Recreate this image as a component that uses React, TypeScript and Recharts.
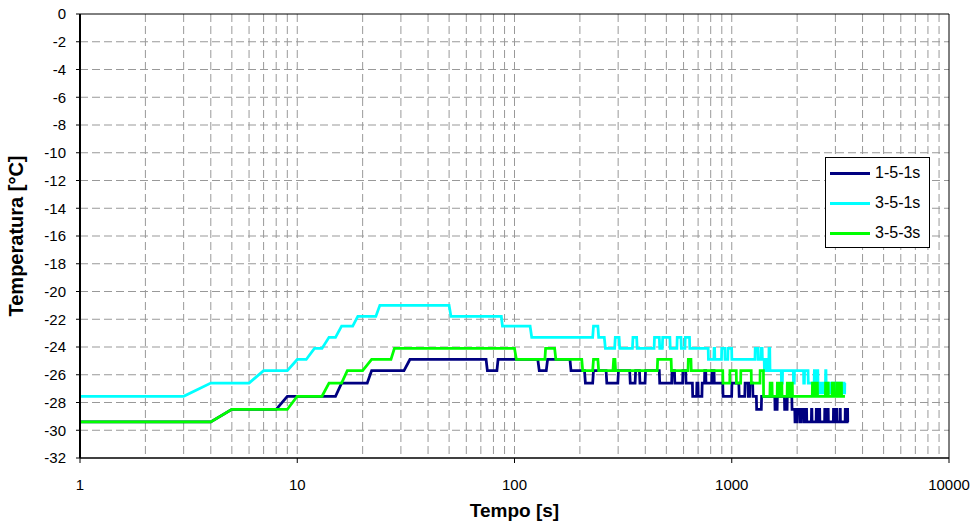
import { CartesianGrid, Legend, Line, LineChart, ReferenceLine, XAxis, YAxis } from 'recharts';

const font = '"Liberation Sans", Arial, sans-serif';

// axis values
const timeTicks = [1, 10, 100, 1000, 10000];
const gridTimes = [
  2, 3, 4, 5, 6, 7, 8, 9, 10, 20, 30, 40, 50, 60, 70, 80, 90, 100,
  200, 300, 400, 500, 600, 700, 800, 900, 1000, 2000, 3000, 4000, 5000, 6000, 7000, 8000, 9000,
];
const tempTicks = [0, -2, -4, -6, -8, -10, -12, -14, -16, -18, -20, -22, -24, -26, -28, -30, -32];
const gridTemps = [-2, -4, -6, -8, -10, -12, -14, -16, -18, -20, -22, -24, -26, -28, -30];

// [time s, temperature °C]
const run151: [number, number][] = [
  [1, -29.4], [4, -29.4], [5, -28.5], [8, -28.5], [9, -27.55], [15, -27.55], [16, -26.6], [21, -26.6],
  [22, -25.7], [31, -25.7], [33, -24.9], [74, -24.9], [75, -25.7], [83, -25.7], [84, -24.9], [128, -24.9],
  [130, -25.7], [140, -25.7], [142, -24.9], [180, -24.9], [182, -25.7], [210, -25.7], [212, -26.6], [229, -26.6],
  [231, -25.7], [264, -25.7], [266, -26.6], [299, -26.6], [301, -25.7], [339, -25.7], [341, -26.6], [359, -26.6],
  [361, -25.7], [376, -25.7], [378, -26.6], [399, -26.6], [401, -25.7], [464, -25.7], [466, -26.6], [529, -26.6],
  [531, -25.7], [545, -25.7], [547, -26.6], [594, -26.6], [596, -25.7], [614, -25.7], [616, -26.6], [659, -26.6],
  [661, -27.55], [689, -27.55], [691, -26.6], [699, -26.6], [701, -27.55], [729, -27.55], [731, -26.6], [749, -26.6],
  [751, -25.7], [759, -25.7], [761, -26.6], [809, -26.6], [811, -25.7], [829, -25.7], [831, -26.6], [909, -26.6],
  [912, -27.55], [999, -27.55], [1002, -26.6], [1078, -26.6], [1082, -27.55], [1148, -27.55], [1152, -26.6], [1188, -26.6],
  [1192, -27.55], [1208, -27.55], [1212, -26.6], [1248, -26.6], [1252, -27.55], [1298, -27.55], [1302, -28.5], [1368, -28.5],
  [1372, -27.55], [1578, -27.55], [1582, -28.5], [1618, -28.5], [1622, -27.55], [1748, -27.55], [1752, -28.5], [1798, -28.5],
  [1802, -27.55], [1890, -27.55], [1895, -28.5], [1950, -28.5], [1955, -29.4], [1990, -29.4], [1995, -28.5], [2050, -28.5],
  [2055, -29.4], [2090, -29.4], [2095, -28.5], [2150, -28.5], [2155, -29.4], [2195, -29.4], [2200, -28.5], [2210, -28.5],
  [2215, -29.4], [2325, -29.4], [2330, -28.5], [2338, -28.5], [2343, -29.4], [2445, -29.4], [2450, -28.5], [2460, -28.5],
  [2465, -29.4], [2525, -29.4], [2530, -28.5], [2540, -28.5], [2545, -29.4], [2675, -29.4], [2680, -28.5], [2690, -28.5],
  [2695, -29.4], [2765, -29.4], [2770, -28.5], [2780, -28.5], [2785, -29.4], [2935, -29.4], [2940, -28.5], [2950, -28.5],
  [2955, -29.4], [3025, -29.4], [3030, -28.5], [3040, -28.5], [3045, -29.4], [3145, -29.4], [3150, -28.5], [3160, -28.5],
  [3165, -29.4], [3325, -29.4], [3330, -28.5], [3345, -28.5], [3350, -29.4], [3395, -29.4], [3400, -28.5], [3415, -28.5],
  [3420, -29.4], [3450, -29.4],
];

const run351: [number, number][] = [
  [1, -27.55], [3, -27.55], [4, -26.6], [6, -26.6], [7, -25.7], [9, -25.7], [10, -24.9], [11, -24.9],
  [12, -24.1], [13, -24.1], [14, -23.3], [15, -23.3], [16, -22.5], [18, -22.5], [19, -21.8], [23, -21.8],
  [24, -21.0], [50, -21.0], [51, -21.8], [87, -21.8], [88, -22.5], [118, -22.5], [120, -23.3], [229, -23.3],
  [231, -22.5], [242, -22.5], [244, -23.3], [259, -23.3], [262, -24.1], [289, -24.1], [291, -23.3], [303, -23.3],
  [305, -24.1], [349, -24.1], [351, -23.3], [365, -23.3], [367, -24.1], [439, -24.1], [441, -23.3], [464, -23.3],
  [466, -24.1], [479, -24.1], [481, -23.3], [519, -23.3], [521, -24.1], [559, -24.1], [561, -23.3], [584, -23.3],
  [586, -24.1], [609, -24.1], [611, -23.3], [639, -23.3], [641, -24.1], [779, -24.1], [781, -24.9], [827, -24.9],
  [829, -24.1], [834, -24.1], [836, -24.9], [897, -24.9], [899, -24.1], [929, -24.1], [931, -24.9], [959, -24.9],
  [961, -24.1], [999, -24.1], [1001, -24.9], [1279, -24.9], [1282, -24.1], [1318, -24.1], [1322, -24.9], [1360, -24.9],
  [1364, -24.1], [1380, -24.1], [1384, -24.9], [1410, -24.9], [1414, -25.7], [1430, -25.7], [1434, -24.9], [1460, -24.9],
  [1464, -25.7], [1480, -25.7], [1484, -24.1], [1496, -24.1], [1500, -25.7], [1690, -25.7], [1694, -26.6], [1710, -26.6],
  [1714, -25.7], [1920, -25.7], [1924, -26.6], [1940, -26.6], [1944, -25.7], [2140, -25.7], [2144, -26.6], [2160, -26.6],
  [2164, -25.7], [2245, -25.7], [2250, -26.6], [2395, -26.6], [2400, -25.7], [2420, -25.7], [2425, -26.6], [2470, -26.6],
  [2475, -25.7], [2490, -25.7], [2495, -26.6], [2520, -26.6], [2525, -27.3], [2535, -27.3], [2540, -26.6], [2580, -26.6],
  [2585, -27.3], [2595, -27.3], [2600, -26.6], [2640, -26.6], [2645, -27.3], [2660, -27.3], [2665, -26.6], [2700, -26.6],
  [2705, -25.7], [2715, -25.7], [2720, -26.6], [2750, -26.6], [2755, -27.3], [2770, -27.3], [2775, -26.6], [2810, -26.6],
  [2815, -27.3], [2830, -27.3], [2835, -26.6], [2870, -26.6], [2875, -27.3], [2890, -27.3], [2895, -26.6], [2930, -26.6],
  [2935, -27.3], [2950, -27.3], [2955, -26.6], [2990, -26.6], [2995, -27.3], [3010, -27.3], [3015, -26.6], [3050, -26.6],
  [3055, -27.3], [3070, -27.3], [3075, -26.6], [3110, -26.6], [3115, -27.3], [3130, -27.3], [3135, -26.6], [3170, -26.6],
  [3175, -27.3], [3190, -27.3], [3195, -26.6], [3230, -26.6], [3235, -27.3], [3250, -27.3], [3255, -26.6], [3290, -26.6],
  [3295, -27.3], [3310, -27.3], [3315, -26.6], [3320, -26.6],
];

const run353: [number, number][] = [
  [1, -29.4], [4, -29.4], [5, -28.5], [9, -28.5], [10, -27.55], [13, -27.55], [14, -26.6], [16, -26.6],
  [17, -25.7], [20, -25.7], [22, -24.9], [27, -24.9], [28, -24.1], [100, -24.1], [102, -24.9], [138, -24.9],
  [139, -24.1], [153, -24.1], [155, -24.9], [204, -24.9], [206, -25.7], [229, -25.7], [231, -24.9], [242, -24.9],
  [244, -25.7], [284, -25.7], [286, -24.9], [290, -24.9], [292, -25.7], [454, -25.7], [456, -24.9], [526, -24.9],
  [528, -25.7], [629, -25.7], [631, -24.9], [649, -24.9], [651, -25.7], [909, -25.7], [911, -26.6], [979, -26.6],
  [981, -25.7], [1049, -25.7], [1051, -26.6], [1099, -26.6], [1101, -25.7], [1229, -25.7], [1231, -26.6], [1349, -26.6],
  [1351, -25.7], [1399, -25.7], [1401, -27.55], [1498, -27.55], [1502, -26.6], [1510, -26.6], [1514, -27.55], [1520, -27.55],
  [1524, -26.6], [1532, -26.6], [1536, -27.55], [1618, -27.55], [1622, -26.6], [1635, -26.6], [1639, -27.55], [1650, -27.55],
  [1654, -26.6], [1670, -26.6], [1674, -27.55], [1685, -27.55], [1689, -26.6], [1700, -26.6], [1704, -27.55], [1798, -27.55],
  [1802, -26.6], [1820, -26.6], [1824, -27.55], [1840, -27.55], [1844, -26.6], [1865, -26.6], [1869, -27.55], [1880, -27.55],
  [1884, -26.6], [1900, -26.6], [1904, -27.55], [2348, -27.55], [2352, -26.6], [2375, -26.6], [2380, -27.55], [2400, -27.55],
  [2405, -26.6], [2430, -26.6], [2435, -27.55], [2450, -27.55], [2455, -26.6], [2478, -26.6], [2483, -27.55], [2698, -27.55],
  [2703, -26.6], [2730, -26.6], [2735, -27.55], [2750, -27.55], [2755, -26.6], [2778, -26.6], [2783, -27.55], [2898, -27.55],
  [2903, -26.6], [2925, -26.6], [2930, -27.55], [2948, -27.55], [2953, -26.6], [2958, -26.6], [2963, -27.55], [3048, -27.55],
  [3053, -26.6], [3085, -26.6], [3090, -27.55], [3110, -27.55], [3115, -26.6], [3150, -26.6], [3155, -27.55], [3170, -27.55],
  [3175, -26.6], [3198, -26.6], [3203, -27.55], [3320, -27.55],
];

const series = [
  { name: '1-5-1s', color: '#000080', points: run151 },
  { name: '3-5-1s', color: '#00FFFF', points: run351 },
  { name: '3-5-3s', color: '#00FF00', points: run353 },
];

const toRows = (pts: [number, number][]) => pts.map(([t, temp]) => ({ t, temp }));

function LegendBox() {
  return (
    <div style={{
      width: 105, height: 91, boxSizing: 'border-box', border: '1px solid #000', background: '#fff',
      fontFamily: font, fontSize: 16, color: '#000',
    }}>
      {series.map(s => (
        <div key={s.name} style={{ display: 'flex', alignItems: 'center', height: 30 }}>
          <span style={{ display: 'inline-block', width: 40, height: 3, background: s.color, marginLeft: 4, marginRight: 5 }} />
          <span>{s.name}</span>
        </div>
      ))}
    </div>
  );
}

export default function App() {
  return (
    <div style={{ position: 'absolute', left: 0, top: 0, width: 976, height: 528, background: '#fff' }}>
      <LineChart width={976} height={528} margin={{ top: 14, right: 27, bottom: 0, left: 0 }}>
        <CartesianGrid stroke="#999" strokeDasharray="8 4" verticalValues={gridTimes} horizontalValues={gridTemps} />
        <XAxis
          dataKey="t"
          type="number"
          scale="log"
          domain={[1, 10000]}
          ticks={timeTicks}
          interval={0}
          allowDataOverflow
          height={70}
          tickSize={5}
          tickMargin={16}
          stroke="#000"
          axisLine={{ stroke: '#000', strokeWidth: 1.5 }}
          tick={{ fill: '#000', fontSize: 15, fontFamily: font }}
          label={{ value: 'Tempo [s]', position: 'insideBottom', offset: 11, style: { fill: '#000', fontSize: 19, fontWeight: 'bold', fontFamily: font } }}
        />
        <YAxis
          dataKey="temp"
          type="number"
          domain={[-32, 0]}
          ticks={tempTicks}
          interval={0}
          width={80}
          tickSize={4}
          tickMargin={10}
          stroke="#000"
          axisLine={{ stroke: '#000', strokeWidth: 2 }}
          tick={{ fill: '#000', fontSize: 15, fontFamily: font }}
          label={{ value: 'Temperatura [°C]', angle: -90, position: 'insideLeft', offset: 16, style: { textAnchor: 'middle', fill: '#000', fontSize: 20, fontWeight: 'bold', fontFamily: font } }}
        />
        <ReferenceLine y={0} stroke="#000" strokeWidth={1} />
        <ReferenceLine x={10000} stroke="#000" strokeWidth={1} />
        {series.map(s => (
          <Line
            key={s.name}
            data={toRows(s.points)}
            dataKey="temp"
            name={s.name}
            type="linear"
            stroke={s.color}
            strokeWidth={2.75}
            dot={false}
            activeDot={false}
            isAnimationActive={false}
          />
        ))}
        <Legend
          layout="vertical"
          align="center"
          verticalAlign="middle"
          content={() => <LegendBox />}
          wrapperStyle={{ left: 825, top: 157, width: 105, height: 91 }}
        />
      </LineChart>
    </div>
  );
}
